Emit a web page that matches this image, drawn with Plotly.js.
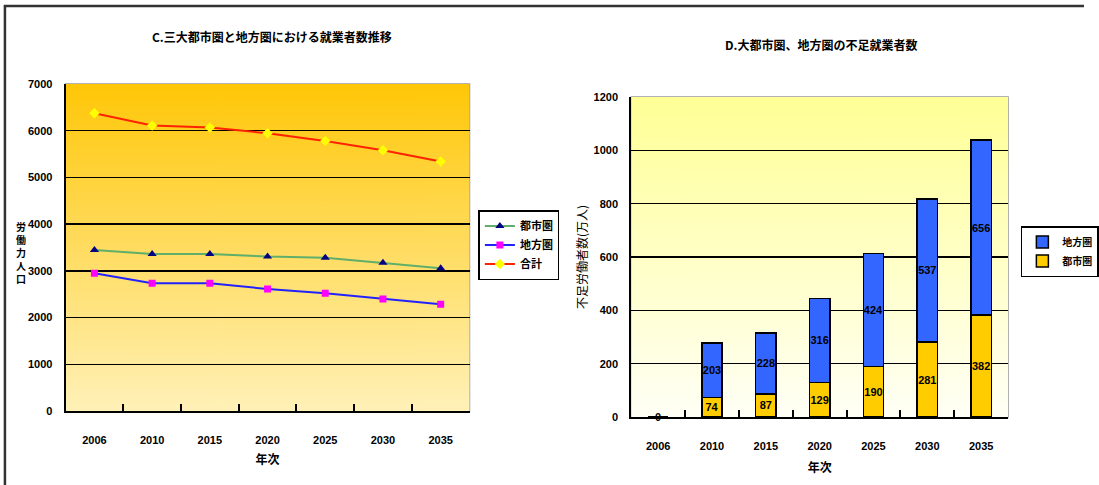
<!DOCTYPE html>
<html>
<head>
<meta charset="utf-8">
<script src="https://cdn.plot.ly/plotly-3.0.1.min.js"></script>
<style>html,body{margin:0;padding:0;background:#fff;overflow:hidden;}#chart{width:1099px;height:485px;}</style>
</head>
<body>
<div id="chart"></div>
<script>
// ---- data ----
const years = ['2006', '2010', '2015', '2020', '2025', '2030', '2035'];
const toshiLine = [3448, 3362, 3362, 3305, 3283, 3176, 3056];   // 都市圏 (left chart)
const chihoLine = [2949, 2734, 2734, 2612, 2520, 2398, 2285];   // 地方圏 (left chart)
const goukei = [6375, 6110, 6067, 5946, 5782, 5583, 5340];      // 合計
const shortToshi = [0, 74, 87, 129, 190, 281, 382];             // 都市圏 不足
const shortChiho = [0, 203, 228, 316, 424, 537, 656];           // 地方圏 不足

const leftTitle = 'C.三大都市圏と地方圏における就業者数推移';
const rightTitle = 'D.大都市圏、地方圏の不足就業者数';

function grad(top, bottom) {
  const c = document.createElement('canvas');
  c.width = 4; c.height = 256;
  const g = c.getContext('2d');
  const gr = g.createLinearGradient(0, 0, 0, 256);
  gr.addColorStop(0, top); gr.addColorStop(1, bottom);
  g.fillStyle = gr; g.fillRect(0, 0, 4, 256);
  return c.toDataURL();
}

const W = 1099, H = 485;
const px = v => v / W, py = v => 1 - v / H;
const tickFont = {family: 'Liberation Sans, Arial, sans-serif', size: 11, color: '#000', weight: 'bold'};
const cjk = 'Noto Sans CJK JP, sans-serif';
const lblFont = {family: 'Liberation Sans, Arial', size: 11, color: '#000', weight: 'bold'};

const traces = [
  {x: years, y: toshiLine, name: '都市圏', type: 'scatter', mode: 'lines+markers', xaxis: 'x', yaxis: 'y', legend: 'legend',
   line: {color: '#5FAF6A', width: 2}, marker: {symbol: 'triangle-up', size: 8, color: '#000080'}},
  {x: years, y: chihoLine, name: '地方圏', type: 'scatter', mode: 'lines+markers', xaxis: 'x', yaxis: 'y', legend: 'legend',
   line: {color: '#2222FF', width: 2}, marker: {symbol: 'square', size: 7, color: '#FF00FF'}},
  {x: years, y: goukei, name: '合計', type: 'scatter', mode: 'lines+markers', xaxis: 'x', yaxis: 'y', legend: 'legend',
   line: {color: '#FF2200', width: 2}, marker: {symbol: 'diamond', size: 8, color: '#FFFF00'}},
  {x: years, y: shortToshi, name: '都市圏', type: 'bar', xaxis: 'x2', yaxis: 'y2', legend: 'legend2',
   marker: {color: '#FFCC00', line: {color: '#000', width: 1.5}}, width: 0.38,
   text: shortToshi.map(String), textposition: 'inside', insidetextanchor: 'middle', textangle: 0, constraintext: 'none',
   textfont: lblFont},
  {x: years, y: shortChiho, name: '地方圏', type: 'bar', xaxis: 'x2', yaxis: 'y2', legend: 'legend2',
   marker: {color: '#3366FF', line: {color: '#000', width: 1.5}}, width: 0.38,
   text: shortChiho.map(String), textposition: 'inside', insidetextanchor: 'middle', textangle: 0, constraintext: 'none',
   textfont: lblFont}
];

const axBase = {
  type: 'category', range: [-0.5, 6.5], showgrid: false, showline: true, linecolor: '#000', linewidth: 2,
  ticks: 'inside', tickson: 'boundaries', ticklen: 7, tickcolor: '#000', tickwidth: 2,
  tickfont: tickFont, ticklabelstandoff: 18, zeroline: false, fixedrange: true
};
const yBase = {
  showgrid: true, gridcolor: '#000', gridwidth: 1.5, showline: true, linecolor: '#000', linewidth: 2,
  ticks: '', tickfont: tickFont, ticklabelstandoff: 9, zeroline: false, fixedrange: true
};

const layout = {
  width: W, height: H, margin: {l: 0, r: 0, t: 0, b: 0},
  paper_bgcolor: '#fff', plot_bgcolor: 'rgba(0,0,0,0)',
  barmode: 'stack', showlegend: true,
  xaxis: Object.assign({}, axBase, {domain: [px(66.5), px(476)], anchor: 'y',
    title: {text: '年次', font: {family: cjk, size: 12, color: '#000', weight: 'bold'}, standoff: 10}}),
  yaxis: Object.assign({}, yBase, {domain: [py(411), py(84)], anchor: 'x', range: [0, 7000], dtick: 1000}),
  xaxis2: Object.assign({}, axBase, {domain: [px(640), px(1022)], anchor: 'y2',
    title: {text: '年次', font: {family: cjk, size: 12, color: '#000', weight: 'bold'}, standoff: 12}}),
  yaxis2: Object.assign({}, yBase, {domain: [py(417), py(97)], anchor: 'x2', range: [0, 1200], dtick: 200,
    title: {text: '不足労働者数(万人)', font: {family: cjk, size: 12, color: '#000'}, standoff: 3}}),
  legend: {x: px(485), y: py(210), xanchor: 'left', yanchor: 'top', bgcolor: '#fff', bordercolor: '#000', borderwidth: 1.5,
    font: {family: cjk, size: 11, color: '#000', weight: 'bold'}, tracegroupgap: 0, itemwidth: 30},
  legend2: {x: px(1035), y: py(226), xanchor: 'left', yanchor: 'top', bgcolor: '#fff', bordercolor: '#000', borderwidth: 1.5,
    traceorder: 'reversed', font: {family: cjk, size: 10, color: '#000', weight: 'bold'}, itemwidth: 30},
  images: [
    {source: grad('#FFC708', '#FFF1B8'), xref: 'x domain', yref: 'y domain', x: 0, y: 1, sizex: 1, sizey: 1,
     sizing: 'stretch', layer: 'below', xanchor: 'left', yanchor: 'top'},
    {source: grad('#FFFF96', '#FFFFF6'), xref: 'x2 domain', yref: 'y2 domain', x: 0, y: 1, sizex: 1, sizey: 1,
     sizing: 'stretch', layer: 'below', xanchor: 'left', yanchor: 'top'}
  ],
  shapes: [
    {type: 'line', xref: 'paper', yref: 'paper', x0: px(4), x1: 1, y0: py(6), y1: py(6), line: {color: '#333', width: 2.5}},
    {type: 'line', xref: 'paper', yref: 'paper', x0: px(5), x1: px(5), y0: 0, y1: py(5), line: {color: '#333', width: 2.5}},
    {type: 'rect', xref: 'x domain', yref: 'y domain', x0: 0, x1: 1, y0: 0, y1: 1, line: {color: '#999', width: 1.5}, layer: 'below'},
    {type: 'rect', xref: 'x2 domain', yref: 'y2 domain', x0: 0, x1: 1, y0: 0, y1: 1, line: {color: '#999', width: 1.5}, layer: 'below'}
  ],
  annotations: [
    {text: leftTitle, xref: 'paper', yref: 'paper', x: px(276), y: py(37), xanchor: 'center', yanchor: 'middle', showarrow: false,
     font: {family: cjk, size: 12, color: '#000', weight: 'bold'}},
    {text: rightTitle, xref: 'paper', yref: 'paper', x: px(832), y: py(44), xanchor: 'center', yanchor: 'middle', showarrow: false,
     font: {family: cjk, size: 12, color: '#000', weight: 'bold'}},
    {text: '労<br>働<br>力<br>人<br>口', xref: 'paper', yref: 'paper', x: px(21), y: py(252), xanchor: 'center', showarrow: false,
     font: {family: cjk, size: 10, color: '#000', weight: 'bold'}},
    {text: String(shortToshi[0] + shortChiho[0]), xref: 'x2', yref: 'y2', x: 0, y: 0, showarrow: false,
     yanchor: 'middle', font: lblFont}
  ]
};

Plotly.newPlot('chart', traces, layout, {displayModeBar: false, staticPlot: true});
</script>
</body>
</html>
